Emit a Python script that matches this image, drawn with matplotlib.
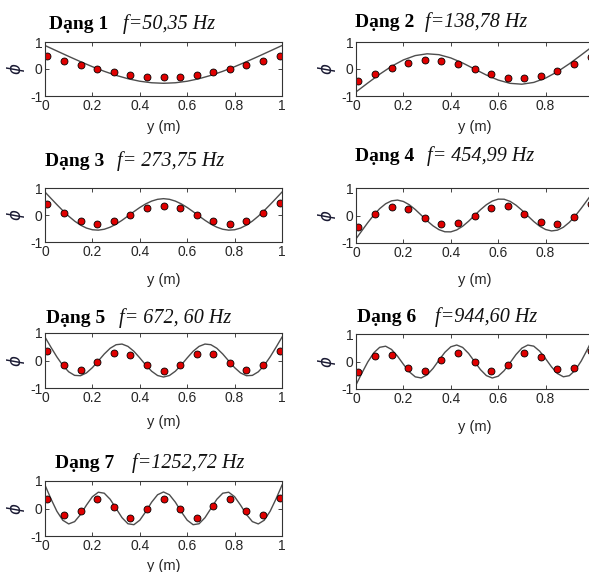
import numpy as np
import matplotlib.pyplot as plt

plt.rcParams['axes.unicode_minus'] = False
plt.rcParams['font.family'] = ['Liberation Sans', 'DejaVu Sans']

# measured points along the beam
sensor_y = [0.01, 0.08, 0.15, 0.22, 0.29, 0.36, 0.43, 0.50,
            0.57, 0.64, 0.71, 0.78, 0.85, 0.92, 0.99]
grid_coarse = np.linspace(0, 1, 21)
grid_fine = np.linspace(0, 1, 41)

mode_names = ['Dạng 1', 'Dạng 2', 'Dạng 3', 'Dạng 4',
              'Dạng 5', 'Dạng 6', 'Dạng 7']
mode_freqs = ['f=50,35 Hz', 'f=138,78 Hz', 'f= 273,75 Hz', 'f= 454,99 Hz',
              'f= 672, 60 Hz', 'f=944,60 Hz', 'f=1252,72 Hz']

# model shapes (lines)
shape_1 = [0.87, 0.668, 0.467, 0.271, 0.085, -0.086, -0.236, -0.36, -0.453,
           -0.51, -0.529, -0.51, -0.453, -0.36, -0.236, -0.086, 0.085, 0.271,
           0.467, 0.668, 0.87]
shape_2 = [-0.85, -0.517, -0.193, 0.10, 0.337, 0.497, 0.563, 0.531, 0.41,
           0.223, 0.0, -0.223, -0.41, -0.531, -0.563, -0.497, -0.337, -0.10,
           0.193, 0.517, 0.85]
shape_3 = [0.85, 0.617, 0.386, 0.163, -0.044, -0.226, -0.375, -0.484, -0.547,
           -0.561, -0.528, -0.451, -0.338, -0.196, -0.038, 0.124, 0.278,
           0.412, 0.515, 0.581, 0.605, 0.581, 0.515, 0.412, 0.278, 0.124,
           -0.038, -0.196, -0.338, -0.451, -0.528, -0.561, -0.547, -0.484,
           -0.375, -0.226, -0.044, 0.163, 0.386, 0.617, 0.85]
shape_4 = [-0.85, -0.550, -0.257, 0.016, 0.250, 0.427, 0.533, 0.561, 0.510,
           0.390, 0.218, 0.015, -0.192, -0.376, -0.515, -0.592, -0.595,
           -0.525, -0.391, -0.209, 0.0, 0.209, 0.391, 0.525, 0.595, 0.592,
           0.515, 0.376, 0.192, -0.015, -0.218, -0.390, -0.510, -0.561,
           -0.533, -0.427, -0.250, -0.016, 0.257, 0.550, 0.85]
shape_5 = [0.85, 0.484, 0.132, -0.177, -0.411, -0.541, -0.553, -0.451, -0.259,
           -0.015, 0.236, 0.445, 0.574, 0.598, 0.513, 0.335, 0.094, -0.163,
           -0.390, -0.546, -0.601, -0.546, -0.390, -0.163, 0.094, 0.335,
           0.513, 0.598, 0.574, 0.445, 0.236, -0.015, -0.259, -0.451, -0.553,
           -0.541, -0.411, -0.177, 0.132, 0.484, 0.85]
shape_6 = [-0.85, -0.418, -0.013, 0.316, 0.516, 0.556, 0.437, 0.196, -0.101,
           -0.376, -0.558, -0.598, -0.487, -0.252, 0.047, 0.334, 0.535, 0.600,
           0.512, 0.294, 0.0, -0.294, -0.512, -0.600, -0.535, -0.334, -0.047,
           0.252, 0.487, 0.598, 0.558, 0.376, 0.101, -0.196, -0.437, -0.556,
           -0.516, -0.316, 0.013, 0.418, 0.85]
shape_7 = [0.85, 0.353, -0.099, -0.427, -0.561, -0.477, -0.218, 0.124, 0.429,
           0.592, 0.556, 0.335, 0.0, -0.334, -0.555, -0.589, -0.425, -0.117,
           0.230, 0.500, 0.601, 0.500, 0.230, -0.117, -0.425, -0.589, -0.555,
           -0.334, 0.0, 0.335, 0.556, 0.592, 0.429, 0.124, -0.218, -0.477,
           -0.561, -0.427, -0.099, 0.353, 0.85]

# measured values (dots)
meas_1 = [0.47, 0.30, 0.15, 0.0, -0.12, -0.22, -0.28, -0.31,
          -0.28, -0.22, -0.12, 0.0, 0.15, 0.30, 0.47]
meas_2 = [-0.43, -0.17, 0.05, 0.23, 0.32, 0.28, 0.17, 0.0,
          -0.17, -0.32, -0.32, -0.25, -0.07, 0.17, 0.43]
meas_3 = [0.42, 0.06, -0.22, -0.32, -0.22, 0.0, 0.25, 0.35,
          0.26, 0.01, -0.22, -0.32, -0.22, 0.06, 0.43]
meas_4 = [-0.40, 0.04, 0.30, 0.23, -0.08, -0.31, -0.29, -0.01,
          0.27, 0.33, 0.05, -0.24, -0.30, -0.06, 0.41]
meas_5 = [0.33, -0.18, -0.35, -0.07, 0.26, 0.21, -0.18, -0.38,
          -0.16, 0.24, 0.25, -0.08, -0.36, -0.18, 0.35]
meas_6 = [-0.37, 0.19, 0.22, -0.22, -0.33, 0.06, 0.31, -0.02,
          -0.36, -0.12, 0.30, 0.17, -0.27, -0.22, 0.39]
meas_7 = [0.36, -0.24, -0.08, 0.34, 0.06, -0.33, -0.01, 0.35,
          -0.03, -0.35, 0.09, 0.35, -0.09, -0.24, 0.37]

shapes = [(grid_coarse, shape_1), (grid_coarse, shape_2), (grid_fine, shape_3),
          (grid_fine, shape_4), (grid_fine, shape_5), (grid_fine, shape_6),
          (grid_fine, shape_7)]
measured = [meas_1, meas_2, meas_3, meas_4, meas_5, meas_6, meas_7]

# layout in pixels: axes box (left, top, right, bottom),
# title (name x, freq x, baseline y), x-label centre y
W, H = 589, 572
AXES_PX = [(45, 42, 282, 96), (356, 42, 593, 96),
           (45, 188, 282, 242), (356, 188, 593, 243),
           (45, 333, 282, 388), (356, 334, 593, 389),
           (45, 481, 282, 536)]
TITLE_PX = [(49, 123, 29), (355, 425, 27), (45, 117, 166), (355, 427, 161),
            (46, 119, 323), (357, 435, 322), (55, 132, 468)]
XLABEL_PX = [127, 127, 280, 280, 422, 427, 566]

INK = '#262626'

fig = plt.figure(figsize=(W / 100, H / 100), dpi=100)

for i in range(7):
    left, top, right, bottom = AXES_PX[i]
    ax = fig.add_axes([left / W, 1 - bottom / H, (right - left) / W,
                       (bottom - top) / H])
    xs, ys = shapes[i]
    ax.plot(xs, ys, color='#4d4d4d', linewidth=1.0)
    ax.plot(sensor_y, measured[i], linestyle='none', marker='o',
            markersize=5, markerfacecolor='#e00000',
            markeredgecolor='black', markeredgewidth=0.6)
    ax.set_xlim(0, 1)
    ax.set_ylim(-1, 1)
    ax.set_xticks([0, 0.2, 0.4, 0.6, 0.8, 1])
    # the right-hand panels run past the page edge, so their "1" is lost
    last = '' if right > W else '1'
    ax.set_xticklabels(['0', '0.2', '0.4', '0.6', '0.8', last])
    ax.set_yticks([-1, 0, 1])
    ax.set_yticklabels(['-1', '0', '1'])
    ax.tick_params(direction='in', length=3, width=0.6, top=True, right=True,
                   labelsize=10, colors=INK, pad=2)
    for spine in ax.spines.values():
        spine.set_color('#333333')
        spine.set_linewidth(0.8)
    ax.set_ylabel(r'$\phi$', fontsize=12, color='#1a1a33', labelpad=2)

    centre_x = (left + right) / 2
    fig.text(centre_x / W, 1 - XLABEL_PX[i] / H, 'y (m)', ha='center',
             va='center', fontsize=10.5, color=INK)

    name_x, freq_x, base_y = TITLE_PX[i]
    fig.text(name_x / W, 1 - base_y / H, mode_names[i], ha='left',
             va='baseline', fontsize=14, fontweight='bold',
             family=['Liberation Serif', 'DejaVu Serif'], color='black')
    fig.text(freq_x / W, 1 - base_y / H, mode_freqs[i], ha='left',
             va='baseline', fontsize=14.5, style='italic',
             family=['Liberation Serif', 'DejaVu Serif'], color='#111111')

fig.savefig('out.png', dpi=100)
